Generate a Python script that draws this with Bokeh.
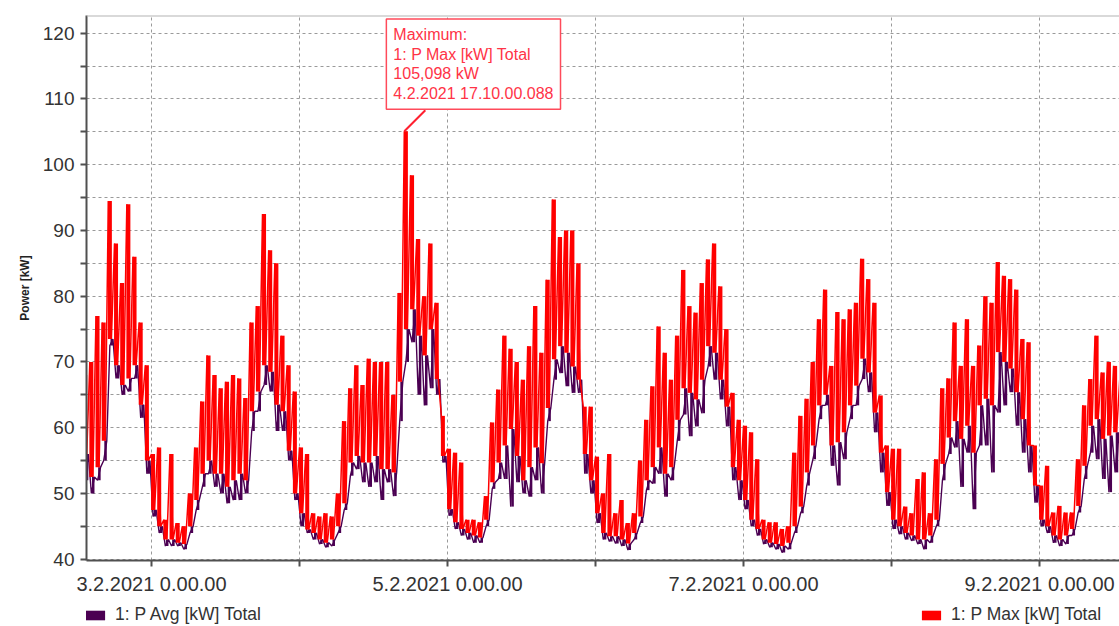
from bokeh.plotting import figure
from bokeh.layouts import column
from bokeh.models import Range1d, FixedTicker, Label, Legend, LegendItem, Span
from bokeh.embed import file_html
from bokeh.resources import INLINE

# ---- data (hours relative to 3.2.2021 0:00; hourly envelopes) ----
hours = list(range(-11, 158))

p_max_peak = [
    68, 70, 77, 76, 94.5, 88, 82, 94, 86, 76, 69.5,
    56, 57, 46, 56, 45.5, 45, 50, 57, 64, 71, 68, 66, 67, 68, 67.5, 64.5, 76, 78.5, 92.5, 87, 85, 74, 69.5, 65.5,
    57, 56, 47, 46.5, 47, 46.5, 50, 61, 66, 69.5, 66.5, 70.5, 70, 70, 70, 65, 80.5, 105.098, 98.4, 88.7, 80, 88, 79, 61.8,
    56.8, 56.2, 54.7, 46, 46, 45.6, 49.6, 60.8, 65.8, 74, 72, 70, 67.3, 72.4, 78.5, 71.4, 82.5, 94.7, 89, 90, 90, 85, 63.2, 63.2,
    55.6, 50, 56, 47, 49, 45.5, 47, 55, 61.2, 66.3, 75.4, 71.4, 67.3, 74, 84, 78.5, 77.5, 82, 85.6, 88, 81.5, 75, 65.3, 61.2,
    60.3, 59.3, 55.2, 46, 45.6, 45.6, 44.6, 45, 56.2, 61.8, 64.4, 70, 76.5, 81, 69.4, 77.6, 76.5, 78, 79, 85.7, 82.6, 79, 64.9, 57.3,
    56.8, 56.8, 48, 47, 52.2, 53.2, 47, 55.2, 66, 67.5, 76, 69.4, 76.5, 69.4, 72.5, 80, 79, 85.2, 83.1, 82.6, 81, 73.5, 73, 57.3,
    51.2, 54.2, 47.1, 48.1, 47.1, 47.1, 55.2, 63.4, 67.4, 74, 68.4, 70, 69.4, 67.4,
]
p_max_low = [
    56, 52.5, 54, 58, 73.5, 69.5, 66.5, 67.5, 69.5, 63.5, 55,
    47.5, 45, 43, 43, 42.5, 42.3, 45, 49, 53, 55, 53, 53, 51, 52, 53, 52, 62.5, 65.5, 69.5, 68.5, 63.5, 62.5, 56.5, 50,
    47, 44.5, 44, 43, 42.5, 43, 45, 48.5, 54.7, 55.7, 54.7, 54.7, 55.7, 53.7, 53.7, 53.2, 67, 75, 78, 74, 71, 75, 67.4, 55.7,
    47.6, 45.6, 44.6, 44, 43.6, 43.3, 46, 51.7, 54.7, 57.3, 59.8, 55.7, 52, 54, 57, 54.6, 63, 70.4, 72.4, 71.4, 69.3, 67.3, 56, 52,
    47, 44, 43.5, 43.5, 43, 42.4, 44, 46.5, 52, 54, 57, 53, 54, 61.2, 66, 65.3, 64.3, 67.3, 72.4, 71.4, 67.3, 63.2, 54, 52,
    49, 46, 44.6, 43, 42.5, 42.3, 42, 42.5, 45, 48, 53.2, 57.3, 63.4, 65, 57.3, 57.8, 59.3, 63.4, 66.4, 70.5, 68.4, 62.3, 56.2, 50.2,
    46, 45, 44, 43.6, 43, 43, 43.6, 46, 54.5, 58.5, 61, 58.3, 60.3, 56.2, 63.4, 64.4, 63.4, 71.5, 70, 69, 65.4, 61.3, 57.3, 51.2,
    46, 45, 43.6, 43, 43.6, 44.6, 48.1, 54.2, 60.3, 61.3, 58.3, 58.8, 59.3, 58.3,
]
p_avg_low = [
    52, 50, 52, 55, 72.5, 67.5, 65, 65.5, 67.5, 61.5, 53,
    46.5, 44, 42, 42, 42, 41.5, 44, 47.5, 51, 53, 51, 50, 48.5, 49, 49, 50, 59.5, 62.5, 66.5, 65.5, 59.5, 59.5, 55, 49,
    45, 44, 43, 42.3, 41.8, 42, 44, 47.5, 52.7, 53.7, 51.7, 51, 51.7, 49, 51.7, 49.6, 61, 70, 73, 65, 63.4, 66, 65, 54.7,
    46.6, 44.6, 43.6, 43, 42.5, 42.5, 45, 50.7, 52.2, 52.2, 48, 51.7, 50, 49.5, 52, 50, 61, 67.3, 68.3, 66.3, 65.3, 65.3, 53, 50,
    45.5, 43, 42.7, 42.4, 42, 41.4, 43, 45.5, 50.5, 51.5, 53, 49.5, 52, 58, 62, 58.7, 60.2, 62.2, 69.3, 67.3, 64.3, 60.2, 52, 49,
    47.6, 45, 43.6, 42.3, 41.8, 41.5, 41, 41.5, 44, 47, 51.2, 55.2, 61.3, 63.4, 54.2, 51.2, 55.2, 61.3, 63.4, 67.4, 65.4, 59.3, 53.2, 48.1,
    44.6, 43.8, 43, 42.8, 42.3, 41.5, 42.5, 45, 52, 56, 57, 51, 56.2, 47.6, 57.3, 57.3, 53.2, 62.3, 63.4, 65.4, 60.3, 56.2, 53.2, 48.6,
    45, 44, 42.5, 42, 42.3, 43.6, 47.1, 52.2, 56.2, 55.2, 52.2, 50.2, 53.2, 51.2,
]

y_ticks = [40, 50, 60, 70, 80, 90, 100, 110, 120]
y_minor_ticks = [45, 55, 65, 75, 85, 95, 105, 115]
x_major_ticks = [0, 48, 96, 144]
x_minor_ticks = [24, 72, 120]
x_tick_labels = ["3.2.2021 0.00.00", "5.2.2021 0.00.00", "7.2.2021 0.00.00", "9.2.2021 0.00.00"]
series_names = ["1: P Avg [kW] Total", "1: P Max [kW] Total"]
annotation_lines = ["Maximum:", "1: P Max [kW] Total", "105,098 kW", "4.2.2021 17.10.00.088"]
y_axis_title = "Power [kW]"

FONT = "Liberation Sans"
RED = "#ff0000"
PURPLE = "#4b0052"
GRID = "#9a9a9a"
AXIS = "#505050"
TXT = "#333333"

p = figure(width=1119, height=600, output_backend="svg", toolbar_location=None,
           x_range=Range1d(-10.54, 156.96), y_range=Range1d(39.8, 122.7),
           min_border_left=86, min_border_right=0, min_border_top=15, min_border_bottom=40)
p.outline_line_color = None
p.background_fill_color = "white"
p.border_fill_color = "white"

# series built from data arrays
avg_x, avg_y, max_x, max_y = [], [], [], []
for t, pk, lo, al in zip(hours, p_max_peak, p_max_low, p_avg_low):
    avg_x += [t + 0.25, t + 0.75]
    avg_y += [al, lo]
    max_x += [t, t + 0.5]
    max_y += [pk, lo]
seg_t = [t + 0.25 for t in hours]
seg_a = [t + 0.55 for t in hours]

p.segment(x0=seg_a, y0=p_avg_low, x1=seg_a, y1=p_max_low, line_color=PURPLE, line_width=2.5)
p.line(avg_x, avg_y, line_color=PURPLE, line_width=1.4)
p.segment(x0=seg_t, y0=p_max_low, x1=seg_t, y1=p_max_peak, line_color=RED, line_width=4)
p.line(max_x, max_y, line_color=RED, line_width=1.5)

# annotation of maximum
i_max = max(range(len(p_max_peak)), key=lambda i: p_max_peak[i])
t_max, v_max = hours[i_max], p_max_peak[i_max]
p.segment(x0=[t_max], y0=[v_max], x1=[t_max + 3.4], y1=[v_max + 3.2], line_color="#ff2030", line_width=2)
p.add_layout(Label(x=t_max, y=v_max, x_offset=-18, y_offset=22, text="\n".join(annotation_lines),
                   text_font=FONT, text_font_size="16px", text_color="#ff3346",
                   text_align="left", text_baseline="bottom", text_line_height=1.16,
                   padding=7, border_line_color="#ff4a5a", border_line_width=1.5,
                   background_fill_color="white"))

# top border
p.add_layout(Span(location=122.7, dimension="width", line_color="#b4b4b4", line_width=2))

# axes
p.xaxis.ticker = FixedTicker(ticks=x_major_ticks, minor_ticks=x_minor_ticks)
p.xaxis.major_label_overrides = dict(zip(x_major_ticks, x_tick_labels))
p.yaxis.ticker = FixedTicker(ticks=y_ticks, minor_ticks=y_minor_ticks)
for ax in (p.xaxis, p.yaxis):
    ax.axis_line_color = AXIS
    ax.axis_line_width = 2
    ax.major_tick_line_color = AXIS
    ax.minor_tick_line_color = AXIS
    ax.major_tick_line_width = 2
    ax.minor_tick_line_width = 2
    ax.major_tick_in = 0
    ax.major_tick_out = 6
    ax.minor_tick_in = 0
    ax.minor_tick_out = 6
    ax.major_label_text_font = FONT
    ax.major_label_text_color = TXT
p.xaxis.major_label_text_font_size = "20px"
p.yaxis.major_label_text_font_size = "19px"
p.xaxis.major_label_standoff = 6
p.yaxis.major_label_standoff = 6
p.yaxis.axis_label = y_axis_title
p.yaxis.axis_label_text_font = FONT
p.yaxis.axis_label_text_font_size = "12px"
p.yaxis.axis_label_text_font_style = "bold"
p.yaxis.axis_label_text_color = "#222222"
p.yaxis.axis_label_standoff = 8

for g in (p.xgrid, p.ygrid):
    g.grid_line_color = GRID
    g.grid_line_dash = "3 3"
    g.grid_line_width = 1
    g.minor_grid_line_color = GRID
    g.minor_grid_line_dash = "3 3"
    g.minor_grid_line_width = 1
p.xgrid.ticker = FixedTicker(ticks=x_major_ticks, minor_ticks=x_minor_ticks)
p.ygrid.ticker = FixedTicker(ticks=y_ticks, minor_ticks=y_minor_ticks)

# legend strip below the chart
lg = figure(width=1119, height=26, output_backend="svg", toolbar_location=None,
            x_range=Range1d(0, 1), y_range=Range1d(0, 1),
            x_axis_location=None, y_axis_location=None,
            min_border_left=0, min_border_right=0, min_border_top=0, min_border_bottom=0)
lg.outline_line_color = None
lg.xgrid.visible = False
lg.ygrid.visible = False
r_avg_leg = lg.quad(left=[0], right=[0], top=[0], bottom=[0], fill_color=PURPLE, line_color=None)
r_max_leg = lg.quad(left=[0], right=[0], top=[0], bottom=[0], fill_color=RED, line_color=None)
leg_common = dict(orientation="horizontal", glyph_width=24, glyph_height=12, label_standoff=8,
                  label_text_font=FONT, label_text_font_size="17.5px", label_text_color=TXT,
                  padding=0, margin=0, border_line_color=None, background_fill_alpha=0)
lg.add_layout(Legend(items=[LegendItem(label=series_names[0], renderers=[r_avg_leg])],
                     location=(-3, 1), **leg_common), "center")
lg.add_layout(Legend(items=[LegendItem(label=series_names[1], renderers=[r_max_leg])],
                     location=(833, 1), **leg_common), "center")

open("out.html", "w").write(file_html(column(p, lg, spacing=0), INLINE))
